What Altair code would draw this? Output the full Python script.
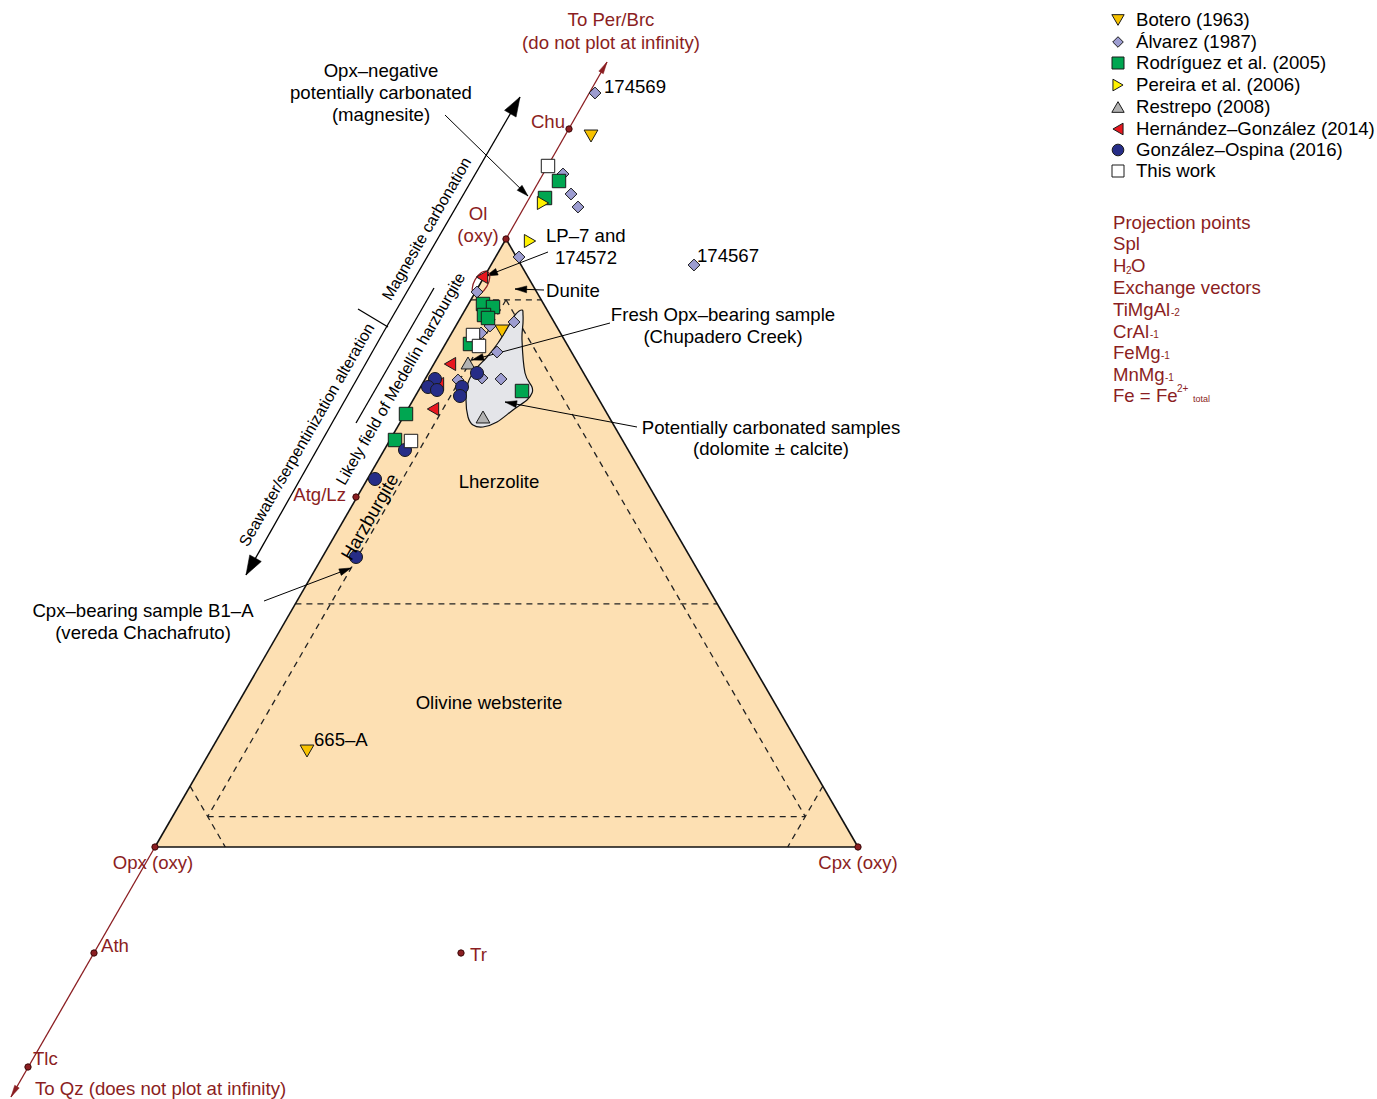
import math
import altair as alt
import pandas as pd

W, H = 1377, 1099
FONT = "Liberation Sans"
RED = "#8B1E22"
PEACH = "#FDE0B3"
BLOB = "#E4E5E9"

# Vertices of the Ol - Opx - Cpx triangle in drawing units
OL = (506, 239)
OPX = (155, 847)
CPX = (858, 847)


def tern(ol, opx, cpx):
    s = float(ol + opx + cpx)
    return ((ol * OL[0] + opx * OPX[0] + cpx * CPX[0]) / s,
            (ol * OL[1] + opx * OPX[1] + cpx * CPX[1]) / s)


# IUGS boundaries as (Ol, Opx, Cpx) % at both ends
class_lines = [
    ((90, 10, 0), (90, 0, 10)),
    ((40, 60, 0), (40, 0, 60)),
    ((5, 90, 5), (5, 5, 90)),
    ((90, 5, 5), (5, 90, 5)),
    ((90, 5, 5), (5, 5, 90)),
    ((10, 90, 0), (0, 90, 10)),
    ((10, 0, 90), (0, 10, 90)),
]

# ---- sample compositions (projected positions) ----
botero_x = [591, 502, 307]
botero_y = [136, 331, 751]
alvarez_x = [595, 563, 571, 578, 519, 694, 477, 514, 490, 481, 497, 501, 482, 458]
alvarez_y = [93, 174, 194, 207, 257, 265, 292, 322, 326, 333, 352, 379, 378, 380]
rodriguez_x = [559, 545, 483, 493, 484, 488, 470, 522, 406, 395]
rodriguez_y = [181, 198, 304, 307, 315, 318, 344, 391, 414, 440]
pereira_x = [543, 530]
pereira_y = [203, 241]
restrepo_x = [468, 483]
restrepo_y = [363, 417]
hernandez_x = [482, 450, 438, 433]
hernandez_y = [277, 364, 384, 409]
gonzalez_x = [435, 428, 437, 462, 460, 477, 405, 375, 356]
gonzalez_y = [379, 387, 390, 387, 396, 373, 450, 479, 557]
thiswork_x = [548, 473, 479, 411]
thiswork_y = [166, 335, 346, 441]

series = [
    ("Botero (1963)", botero_x, botero_y, "triangle-down", "#F7C200"),
    ("Álvarez (1987)", alvarez_x, alvarez_y, "diamond", "#9D9DD1"),
    ("Rodríguez et al. (2005)", rodriguez_x, rodriguez_y, "square", "#00A651"),
    ("Pereira et al. (2006)", pereira_x, pereira_y, "triangle-right", "#FFF200"),
    ("Restrepo (2008)", restrepo_x, restrepo_y, "triangle-up", "#B2B2B2"),
    ("Hernández–González (2014)", hernandez_x, hernandez_y, "triangle-left", "#E8171F"),
    ("González–Ospina (2016)", gonzalez_x, gonzalez_y, "circle", "#262D87"),
    ("This work", thiswork_x, thiswork_y, "square", "#FFFFFF"),
]
marker_size = {"triangle-down": 190, "diamond": 140, "square": 180,
               "triangle-right": 170, "triangle-up": 190, "triangle-left": 170,
               "circle": 170}

# Outline of the field of potentially carbonated samples
blob_x = [522, 523, 523, 522, 525, 532, 532, 527, 513, 497, 483, 473, 468, 466,
          468, 475, 487, 498, 508, 515]
blob_y = [310, 315, 323, 340, 373, 387, 393, 400, 410, 422, 427, 425, 417, 400,
          383, 370, 357, 343, 327, 315]

# Projection points on the Ol-Opx join
proj_names = ["Chu", "Ol", "Atg/Lz", "Opx", "Cpx", "Ath", "Tlc", "Tr"]
proj_x = [569, OL[0], 356, OPX[0], CPX[0], 94, 28, 461]
proj_y = [129, OL[1], 497, OPX[1], CPX[1], 953, 1067, 953]

xs = alt.Scale(domain=[0, W], nice=False, zero=False)
ys = alt.Scale(domain=[0, H], nice=False, zero=False, reverse=True)
X = alt.X("x:Q", scale=xs, axis=None)
Y = alt.Y("y:Q", scale=ys, axis=None)


def rules(rows, **kw):
    df = pd.DataFrame(rows, columns=["x", "y", "x2", "y2"])
    return alt.Chart(df).mark_rule(**kw).encode(x=X, y=Y, x2="x2:Q", y2="y2:Q")


def heads(rows, path, size, color):
    recs = []
    for x1, y1, x2, y2 in rows:
        ang = math.degrees(math.atan2(x2 - x1, -(y2 - y1))) % 360
        recs.append({"x": x2, "y": y2, "a": ang})
    return alt.Chart(pd.DataFrame(recs)).mark_point(
        shape=path, filled=True, fill=color, stroke=color, strokeWidth=0.5,
        size=size, opacity=1).encode(x=X, y=Y, angle=alt.Angle("a:Q", scale=None))


def texts(rows, **kw):
    df = pd.DataFrame(rows, columns=["x", "y", "t"])
    base = dict(font=FONT, fontSize=18.6, baseline="middle", align="left",
                color="black")
    base.update(kw)
    return alt.Chart(df).mark_text(**base).encode(x=X, y=Y, text="t:N")


layers = []

# triangle fill
tri = pd.DataFrame({"y": [OL[1], OPX[1]], "x": [OL[0], OPX[0]], "x2": [OL[0], CPX[0]]})
layers.append(alt.Chart(tri).mark_area(orient="horizontal", color=PEACH, opacity=1)
              .encode(y=Y, x=X, x2="x2:Q"))

# classification boundaries
dash_rows = [tern(*a) + tern(*b) for a, b in class_lines]
layers.append(rules(dash_rows, color="#222222", strokeWidth=1.3, strokeDash=[6, 5]))

# triangle edges
layers.append(rules([OL + OPX, OPX + CPX, CPX + OL], color="#111111", strokeWidth=1.6))

# carbonated field
blob = pd.DataFrame({"x": blob_x, "y": blob_y, "i": list(range(len(blob_x)))})
layers.append(alt.Chart(blob).mark_line(interpolate="cardinal-closed", fill=BLOB,
                                        stroke="#111111", strokeWidth=1.2)
              .encode(x=X, y=Y, order="i:Q"))

# Ol-Opx join extended towards Per/Brc and Qz
red_arrows = [(OL[0], OL[1], 607, 62), (OPX[0], OPX[1], 11, 1097)]
layers.append(rules(red_arrows, color=RED, strokeWidth=1.3))
layers.append(heads(red_arrows, "M0,0L0.28,1.3L-0.28,1.3Z", 340, RED))

# alteration / carbonation bar
big_arrow = [(383, 333, 520, 97), (383, 333, 246, 575)]
layers.append(rules(big_arrow, color="black", strokeWidth=1.3))
layers.append(heads(big_arrow, "M0,0L0.62,1.8L-0.62,1.8Z", 460, "black"))
layers.append(rules([(388, 327, 358, 309), (434, 288, 356, 423)], color="black", strokeWidth=1.3))

# pointer arrows
pointers = [
    (445, 115, 528, 196),
    (548, 252, 486, 276),
    (544, 290, 515, 289),
    (610, 323, 472, 360),
    (637, 427, 505, 402),
    (264, 601, 351, 568),
]
layers.append(rules(pointers, color="black", strokeWidth=1))
layers.append(heads(pointers, "M0,0L0.5,1.7L-0.5,1.7Z", 190, "black"))

# circled pair
ell = pd.DataFrame({"x": [481], "y": [283], "a": [30]})
layers.append(alt.Chart(ell).mark_point(
    shape="M0,-1A0.52,1,0,1,1,0,1A0.52,1,0,1,1,0,-1Z", filled=False, stroke=RED,
    fill="#ffffff", fillOpacity=0, strokeWidth=1.2, size=680, opacity=1)
    .encode(x=X, y=Y, angle=alt.Angle("a:Q", scale=None)))

# samples
for name, sx, sy, shape, col in series:
    df = pd.DataFrame({"x": sx, "y": sy})
    layers.append(alt.Chart(df).mark_point(
        shape=shape, filled=True, fill=col, stroke="#1a1a1a", strokeWidth=1,
        size=marker_size[shape], opacity=1).encode(x=X, y=Y))

# projection points
proj = pd.DataFrame({"x": proj_x, "y": proj_y, "n": proj_names})
layers.append(alt.Chart(proj).mark_point(shape="circle", filled=True, fill=RED,
                                         stroke="#3a0808", strokeWidth=1, size=40,
                                         opacity=1).encode(x=X, y=Y))

# red labels
layers.append(texts([(611, 20, "To Per/Brc"), (611, 43, "(do not plot at infinity)"),
                     (478, 214, "Ol"), (478, 236, "(oxy)"),
                     (153, 863, "Opx (oxy)"), (858, 863, "Cpx (oxy)")],
                    color=RED, align="center"))
layers.append(texts([(565, 122, "Chu"), (346, 495, "Atg/Lz")], color=RED, align="right"))
layers.append(texts([(101, 946, "Ath"), (33, 1059, "Tlc"),
                     (35, 1089, "To Qz (does not plot at infinity)"), (470, 955, "Tr")],
                    color=RED))

# black labels
layers.append(texts([(604, 87, "174569"), (697, 256, "174567"), (546, 236, "LP–7 and"),
                     (555, 258, "174572"), (546, 291, "Dunite"), (314, 740, "665–A")]))
layers.append(texts([(381, 71, "Opx–negative"), (381, 93, "potentially carbonated"),
                     (381, 115, "(magnesite)"),
                     (723, 315, "Fresh Opx–bearing sample"), (723, 337, "(Chupadero Creek)"),
                     (771, 428, "Potentially carbonated samples"), (771, 449, "(dolomite ± calcite)"),
                     (499, 482, "Lherzolite"), (489, 703, "Olivine websterite"),
                     (143, 611, "Cpx–bearing sample B1–A"), (143, 633, "(vereda Chachafruto)")],
                    align="center"))
layers.append(texts([(427, 229, "Magnesite carbonation"),
                     (307, 435, "Seawater/serpentinization alteration"),
                     (401, 379, "Likely field of Medellín harzburgite")],
                    align="center", angle=300, fontSize=16))
layers.append(texts([(370, 517, "Harzburgite")], align="center", angle=300, fontSize=18.6))

# legend
leg_y = [20, 42, 63, 85, 107, 129, 150, 171]
for (name, _, _, shape, col), yy in zip(series, leg_y):
    layers.append(alt.Chart(pd.DataFrame({"x": [1118], "y": [yy]})).mark_point(
        shape=shape, filled=True, fill=col, stroke="#1a1a1a", strokeWidth=1,
        size=marker_size[shape] * 0.8, opacity=1).encode(x=X, y=Y))
layers.append(texts([(1136, yy, s[0]) for s, yy in zip(series, leg_y)]))

# projection / exchange vector notes
layers.append(texts([(1113, 223, "Projection points"), (1113, 244, "Spl"), (1113, 266, "H"),
                     (1131, 266, "O"),
                     (1113, 288, "Exchange vectors"), (1113, 310, "TiMgAl"),
                     (1113, 332, "CrAl"), (1113, 353, "FeMg"), (1113, 375, "MnMg"),
                     (1113, 396, "Fe = Fe")], color=RED))
layers.append(texts([(1126, 271, "2"), (1171, 313, "-2"), (1150, 335, "-1"),
                     (1161, 356, "-1"), (1165, 378, "-1"), (1177, 389, "2+")],
                    color=RED, fontSize=10))
layers.append(texts([(1193, 399, "total")], color=RED, fontSize=9))

chart = alt.layer(*layers).properties(
    width=W, height=H, padding=0, autosize=alt.AutoSizeParams(type="none"),
    background="white"
).configure_view(stroke=None)

chart.save("out.html", embed_options={"renderer": "svg", "actions": False})
